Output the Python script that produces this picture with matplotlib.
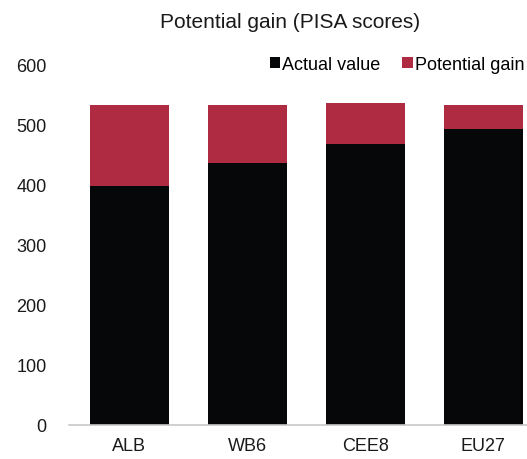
import matplotlib
matplotlib.use("Agg")
import matplotlib.pyplot as plt
import numpy as np

plt.rcParams['font.family'] = ['Liberation Sans Narrow', 'Liberation Sans', 'DejaVu Sans']

# data
categories = ['ALB', 'WB6', 'CEE8', 'EU27']
actual_value = [399, 437, 468, 493]
potential_gain = [134, 97, 68, 40]

black = '#060708'
red = '#AE2B42'

fig = plt.figure(figsize=(5.27, 4.6), dpi=100)
ax = fig.add_axes([69 / 527, 34 / 460, 458 / 527, 360 / 460])

x = np.arange(len(categories))
ax.bar(x, actual_value, width=0.67, color=black, label='Actual value')
ax.bar(x, potential_gain, width=0.67, bottom=actual_value, color=red,
       label='Potential gain')

ax.set_xlim(-0.51, 3.37)
ax.set_ylim(0, 600)
ax.set_yticks(range(0, 601, 100))
ax.set_xticks(x)
ax.set_xticklabels(categories)
ax.tick_params(axis='both', length=0, labelsize=13, colors='#1a1a1a')
ax.tick_params(axis='y', pad=16)
ax.tick_params(axis='x', pad=9)

for s in ['top', 'right', 'left']:
    ax.spines[s].set_visible(False)
ax.spines['bottom'].set_color('#c8c8c8')
ax.spines['bottom'].set_linewidth(1.2)

fig.text(290 / 527, 1 - 22 / 460, 'Potential gain (PISA scores)', ha='center',
         va='center', fontsize=15, color='#1a1a1a')

leg = ax.legend(loc='upper right', bbox_to_anchor=(1.01, 1.045), ncol=2,
                frameon=False, fontsize=13, handlelength=0.6, handleheight=0.6,
                handletextpad=0.1, columnspacing=1.2, borderaxespad=0)

fig.savefig('out.png', dpi=100)
